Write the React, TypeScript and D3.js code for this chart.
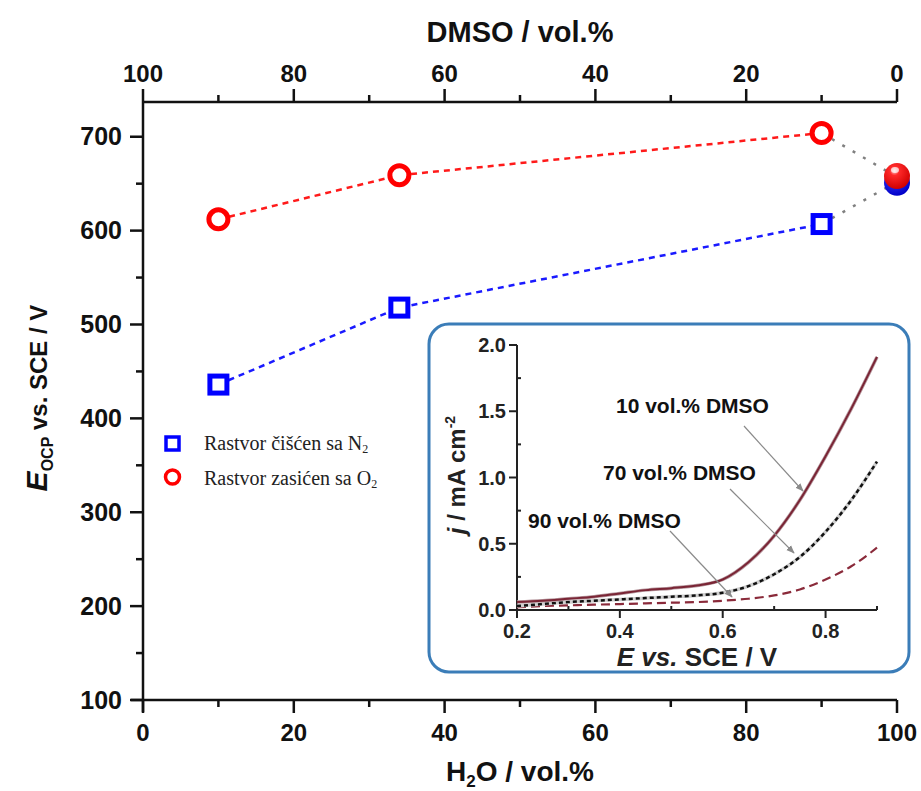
import React from "react";
import * as d3 from "d3";

// ---------- data ----------
const h2oPercent = [10, 34, 90];
const n2Values = [436, 518, 607];
const o2Values = [612, 659, 704];
const pureDmsoX = 100;
const pureO2 = 657;
const pureN2 = 652;

const bottomMajor = [0, 20, 40, 60, 80, 100];
const bottomMinor = [10, 30, 50, 70, 90];
const topMajor = [100, 80, 60, 40, 20, 0];
const topMinor = [90, 70, 50, 30, 10];
const leftMajor = [100, 200, 300, 400, 500, 600, 700];
const leftMinor = [150, 250, 350, 450, 550, 650];

const insetE = [0.2, 0.25, 0.3, 0.35, 0.4, 0.45, 0.5, 0.55, 0.6, 0.65, 0.7, 0.75, 0.8, 0.85, 0.9];
const j10 = [0.06, 0.07, 0.085, 0.1, 0.125, 0.15, 0.165, 0.185, 0.23, 0.36, 0.56, 0.83, 1.16, 1.52, 1.91];
const j70 = [0.03, 0.045, 0.06, 0.07, 0.08, 0.09, 0.1, 0.11, 0.13, 0.18, 0.27, 0.4, 0.59, 0.83, 1.12];
const j90 = [0.02, 0.03, 0.035, 0.04, 0.045, 0.05, 0.055, 0.06, 0.07, 0.085, 0.11, 0.155, 0.23, 0.33, 0.47];
const insetXMajor = [0.2, 0.4, 0.6, 0.8];
const insetXMinor = [0.3, 0.5, 0.7, 0.9];
const insetYMajor = [0, 0.5, 1.0, 1.5, 2.0];
const insetYMinor = [0.25, 0.75, 1.25, 1.75];
const curveLabels = ["10 vol.% DMSO", "70 vol.% DMSO", "90 vol.% DMSO"];

const SANS = "'Liberation Sans', Arial, Helvetica, sans-serif";
const SERIF = "'Liberation Serif', 'Times New Roman', serif";

export default function App() {
  const x = d3.scaleLinear().domain([0, 100]).range([143, 897]);
  const xTop = d3.scaleLinear().domain([100, 0]).range([143, 897]);
  const y = d3.scaleLinear().domain([100, 737]).range([700, 102]);

  const ix = d3.scaleLinear().domain([0.2, 0.9]).range([517, 877]);
  const iy = d3.scaleLinear().domain([0, 2.0]).range([610, 345]);

  const mainLine = d3
    .line<[number, number]>()
    .x((d) => x(d[0]))
    .y((d) => y(d[1]));
  const n2Pts: [number, number][] = h2oPercent.map((h, i) => [h, n2Values[i]]);
  const o2Pts: [number, number][] = h2oPercent.map((h, i) => [h, o2Values[i]]);

  const insetLine = d3
    .line<[number, number]>()
    .x((d) => ix(d[0]))
    .y((d) => iy(d[1]))
    .curve(d3.curveMonotoneX);
  const c10: [number, number][] = insetE.map((e, i) => [e, j10[i]]);
  const c70: [number, number][] = insetE.map((e, i) => [e, j70[i]]);
  const c90: [number, number][] = insetE.map((e, i) => [e, j90[i]]);

  const last = h2oPercent.length - 1;
  const sx = x(pureDmsoX);

  return (
    <svg
      width={921}
      height={791}
      style={{ display: "block", background: "#fff", position: "absolute", left: 0, top: 0 }}
    >
      <defs>
        <radialGradient id="redBall" cx="40%" cy="30%" r="70%">
          <stop offset="0%" stopColor="#ffd0d0" />
          <stop offset="25%" stopColor="#ff2a2a" />
          <stop offset="100%" stopColor="#d00000" />
        </radialGradient>
        <radialGradient id="blueBall" cx="40%" cy="30%" r="70%">
          <stop offset="0%" stopColor="#4040ff" />
          <stop offset="100%" stopColor="#0000c8" />
        </radialGradient>
        <marker id="arr" viewBox="0 0 10 10" refX="9" refY="5" markerWidth="7" markerHeight="7" orient="auto">
          <path d="M0,1 L10,5 L0,9 z" fill="#8a8a8a" />
        </marker>
      </defs>

      {/* ---------- main axes ---------- */}
      <g stroke="#111" strokeWidth={2.5} fill="none">
        <line x1={143} x2={143} y1={y(737)} y2={712} />
        <line x1={131} x2={x(100)} y1={y(100)} y2={y(100)} />
        <line x1={143} x2={x(100)} y1={y(737)} y2={y(737)} />
        {bottomMajor.map((v) => (
          <line key={"bM" + v} x1={x(v)} x2={x(v)} y1={y(100)} y2={y(100) + 13} />
        ))}
        {bottomMinor.map((v) => (
          <line key={"bm" + v} x1={x(v)} x2={x(v)} y1={y(100)} y2={y(100) + 7} />
        ))}
        {topMajor.map((v) => (
          <line key={"tM" + v} x1={xTop(v)} x2={xTop(v)} y1={y(737)} y2={y(737) - 13} />
        ))}
        {topMinor.map((v) => (
          <line key={"tm" + v} x1={xTop(v)} x2={xTop(v)} y1={y(737)} y2={y(737) - 7} />
        ))}
        {leftMajor.map((v) => (
          <line key={"lM" + v} x1={143} x2={130} y1={y(v)} y2={y(v)} />
        ))}
        {leftMinor.map((v) => (
          <line key={"lm" + v} x1={143} x2={136} y1={y(v)} y2={y(v)} />
        ))}
      </g>
      <g fontFamily={SANS} fontWeight="bold" fontSize={24} fill="#111">
        {bottomMajor.map((v) => (
          <text key={"bl" + v} x={x(v)} y={741} textAnchor="middle">
            {v}
          </text>
        ))}
        {topMajor.map((v) => (
          <text key={"tl" + v} x={xTop(v)} y={82} textAnchor="middle">
            {v}
          </text>
        ))}
        {leftMajor.map((v) => (
          <text key={"ll" + v} x={122} y={y(v) + 8.5} textAnchor="end" fontSize={25}>
            {v}
          </text>
        ))}
      </g>
      <text x={520} y={42} textAnchor="middle" fontFamily={SANS} fontWeight="bold" fontSize={29} fill="#111">
        DMSO / vol.%
      </text>
      <text x={520} y={781} textAnchor="middle" fontFamily={SANS} fontWeight="bold" fontSize={28} fill="#111">
        H<tspan fontSize={17} dy={6}>2</tspan>
        <tspan dy={-6}>O / vol.%</tspan>
      </text>
      <text
        transform="translate(47,398) rotate(-90)"
        textAnchor="middle"
        fontFamily={SANS}
        fontWeight="bold"
        fontSize={24}
        fill="#111"
      >
        <tspan fontStyle="italic" fontSize={30}>E</tspan>
        <tspan fontSize={16} dy={6}>OCP</tspan>
        <tspan dy={-6}> vs.</tspan>
        <tspan> SCE / V</tspan>
      </text>

      {/* ---------- connecting lines ---------- */}
      <path d={mainLine(o2Pts) || ""} fill="none" stroke="#ff1a1a" strokeWidth={2.5} strokeDasharray="6,5" />
      <path d={mainLine(n2Pts) || ""} fill="none" stroke="#1a1aff" strokeWidth={2.5} strokeDasharray="6,5" />
      <line
        x1={x(h2oPercent[last])}
        y1={y(o2Values[last])}
        x2={sx}
        y2={y(pureO2)}
        stroke="#808080"
        strokeWidth={2.5}
        strokeDasharray="3,9"
      />
      <line
        x1={x(h2oPercent[last])}
        y1={y(n2Values[last])}
        x2={sx}
        y2={y(pureN2)}
        stroke="#808080"
        strokeWidth={2.5}
        strokeDasharray="3,9"
      />

      {/* markers */}
      {n2Pts.map((d, i) => (
        <rect
          key={"sq" + i}
          x={x(d[0]) - 8.5}
          y={y(d[1]) - 8.5}
          width={17}
          height={17}
          fill="#fff"
          stroke="#0000ff"
          strokeWidth={5}
        />
      ))}
      {o2Pts.map((d, i) => (
        <circle key={"ci" + i} cx={x(d[0])} cy={y(d[1])} r={9.5} fill="#fff" stroke="#ff0000" strokeWidth={5} />
      ))}

      {/* pure DMSO sphere */}
      <circle cx={sx} cy={y(pureN2) + 1} r={13} fill="url(#blueBall)" />
      <circle cx={sx} cy={y(pureO2) - 1} r={13} fill="url(#redBall)" />
      <ellipse cx={sx - 2} cy={y(pureO2) - 7} rx={4} ry={3} fill="#fff" opacity={0.7} />

      {/* legend */}
      <rect x={166} y={437} width={13} height={13} fill="#fff" stroke="#0000ff" strokeWidth={3.5} />
      <circle cx={172.5} cy={477} r={7} fill="#fff" stroke="#ff0000" strokeWidth={3.5} />
      <g fontFamily={SERIF} fontSize={20} fill="#222">
        <text x={204} y={450}>
          Rastvor čišćen sa N<tspan fontSize={12} dy={3}>2</tspan>
        </text>
        <text x={204} y={485}>
          Rastvor zasićen sa O<tspan fontSize={12} dy={3}>2</tspan>
        </text>
      </g>

      {/* ---------- inset ---------- */}
      <rect x={429} y={324} width={480} height={348} rx={20} ry={20} fill="#fff" stroke="#3b7db8" strokeWidth={3} />
      <g stroke="#222" strokeWidth={2} fill="none">
        <line x1={ix(0.2)} x2={ix(0.2)} y1={iy(2.0)} y2={iy(0)} />
        <line x1={ix(0.2)} x2={ix(0.9)} y1={iy(0)} y2={iy(0)} />
        {insetYMajor.map((v) => (
          <line key={"iyM" + v} x1={ix(0.2) - 8} x2={ix(0.2)} y1={iy(v)} y2={iy(v)} />
        ))}
        {insetYMinor.map((v) => (
          <line key={"iym" + v} x1={ix(0.2)} x2={ix(0.2) + 4} y1={iy(v)} y2={iy(v)} />
        ))}
        {insetXMajor.map((v) => (
          <line key={"ixM" + v} x1={ix(v)} x2={ix(v)} y1={iy(0)} y2={iy(0) + 8} />
        ))}
        {insetXMinor.map((v) => (
          <line key={"ixm" + v} x1={ix(v)} x2={ix(v)} y1={iy(0)} y2={iy(0) - 4} />
        ))}
      </g>
      <g fontFamily={SANS} fontWeight="bold" fontSize={20} fill="#222">
        {insetYMajor.map((v) => (
          <text key={"iyl" + v} x={ix(0.2) - 11} y={iy(v) + 7} textAnchor="end">
            {v.toFixed(1)}
          </text>
        ))}
        {insetXMajor.map((v) => (
          <text key={"ixl" + v} x={ix(v)} y={iy(0) + 28} textAnchor="middle">
            {v.toFixed(1)}
          </text>
        ))}
      </g>
      <text x={697} y={666} textAnchor="middle" fontFamily={SANS} fontWeight="bold" fontSize={26} fill="#222">
        <tspan fontStyle="italic">E vs.</tspan> SCE / V
      </text>
      <text
        transform="translate(465,475) rotate(-90)"
        textAnchor="middle"
        fontFamily={SANS}
        fontWeight="bold"
        fontSize={24}
        fill="#222"
      >
        <tspan fontStyle="italic">j</tspan> / mA cm<tspan fontSize={14} dy={-10}>-2</tspan>
      </text>

      {/* curves */}
      <path d={insetLine(c90) || ""} fill="none" stroke="#8a2a3a" strokeWidth={2.2} strokeDasharray="9,5" />
      <path d={insetLine(c70) || ""} fill="none" stroke="#cfcfcf" strokeWidth={3.5} />
      <path d={insetLine(c70) || ""} fill="none" stroke="#111" strokeWidth={2.5} strokeDasharray="4,3" />
      <path d={insetLine(c10) || ""} fill="none" stroke="#b89aa0" strokeWidth={3.5} />
      <path d={insetLine(c10) || ""} fill="none" stroke="#7a2535" strokeWidth={2} />

      <g fontFamily={SANS} fontWeight="bold" fontSize={21} fill="#111">
        <text x={616} y={413}>{curveLabels[0]}</text>
        <text x={603} y={480}>{curveLabels[1]}</text>
        <text x={528} y={528}>{curveLabels[2]}</text>
      </g>
      <g stroke="#8a8a8a" strokeWidth={1.2}>
        <line x1={744} y1={426} x2={803} y2={491} markerEnd="url(#arr)" />
        <line x1={730} y1={489} x2={794} y2={553} markerEnd="url(#arr)" />
        <line x1={670} y1={531} x2={732} y2={597} markerEnd="url(#arr)" />
      </g>
    </svg>
  );
}
